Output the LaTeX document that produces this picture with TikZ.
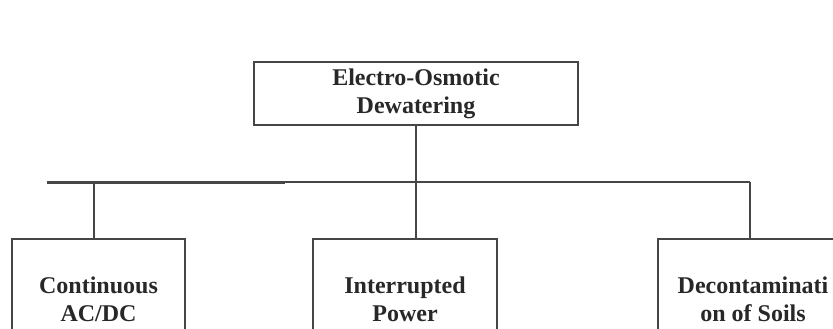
\documentclass[tikz,border=0pt]{standalone}
\usepackage{fontspec}
\setmainfont{Liberation Serif}
\definecolor{eodline}{RGB}{70,70,70}
\definecolor{eodtext}{RGB}{40,40,40}
\usetikzlibrary{positioning}
\tikzset{
  box/.style={rectangle,draw=eodline,line width=2pt,fill=white,
              text=eodtext,align=center,inner sep=0pt,
              font=\fontsize{24}{28}\selectfont\bfseries},
  bus/.style={draw=eodline,line width=#1},
  bus/.default=1.5pt,
}

\begin{document}
\begin{tikzpicture}[x=1pt,y=-1pt]
    \clip (0,0) rectangle (833,329);
    \fill[white] (0,0) rectangle (833,329);
    % top of the tree
    \node[box,minimum width=324pt,minimum height=63pt] (eod) at (416,93.5)
         {Electro-Osmotic\\Dewatering};
    % the three methods, cut off at the bottom
    \node[box,minimum width=173pt,minimum height=120pt] (cont) at (98.5,299)
         {Continuous\\AC/DC};
    \node[box,minimum width=184pt,minimum height=120pt] (intr) at (405,299)
         {Interrupted\\Power};
    \node[box,minimum width=190pt,minimum height=120pt] (decon) at (753,299)
         {Decontaminati\\on of Soils};
    \coordinate (busL) at (47,182);
    \coordinate (busM) at (285,182);
    \coordinate (busC) at (94,182);
    \coordinate (busR) at (750,182);
    \draw[bus=3pt] (busL) -- (busM);
    \draw[bus] (busM) -- (busR);
    \draw[bus=2pt] (eod.south) -- (eod.south |- busM);
    \draw[bus=2pt] (busC) -- (busC |- cont.north);
    \draw[bus=2pt] (eod.south |- busM) -- (eod.south |- intr.north);
    \draw[bus] (busR) -- (busR |- decon.north);
\end{tikzpicture}
\end{document}
